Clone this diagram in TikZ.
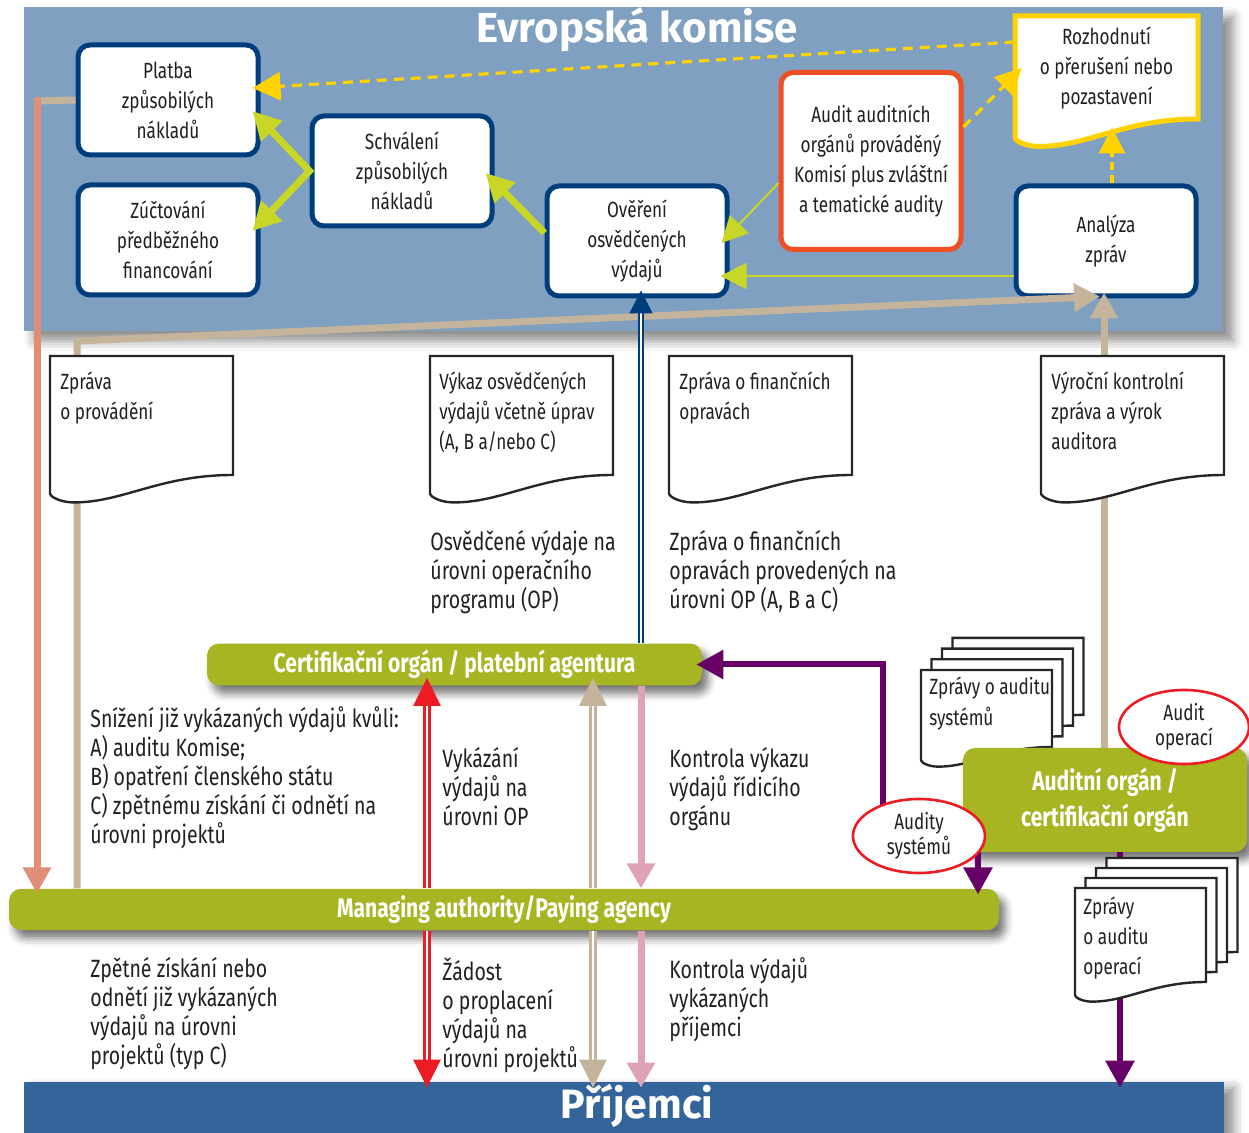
\documentclass[tikz,border=0pt]{standalone}
\usepackage{fontspec}
\setmainfont{Fira Sans}[FakeStretch=0.78]
\newfontfamily\titlefont{Fira Sans}
\usetikzlibrary{arrows.meta,shapes.geometric,shadows.blur}

\definecolor{panelblue}{RGB}{127,160,192}
\definecolor{boxblue}{RGB}{0,61,125}
\definecolor{auditred}{RGB}{240,78,35}
\definecolor{decyellow}{RGB}{255,210,0}
\definecolor{limegreen}{RGB}{200,214,40}
\definecolor{reporttan}{RGB}{196,180,155}
\definecolor{salmonline}{RGB}{224,142,120}
\definecolor{bargreen}{RGB}{168,181,34}
\definecolor{auditpurple}{RGB}{102,0,102}
\definecolor{checkpink}{RGB}{223,163,181}
\definecolor{claimred}{RGB}{237,28,36}
\definecolor{benefblue}{RGB}{51,101,154}
\definecolor{textgray}{RGB}{35,31,32}

\tikzset{
    ecbox/.style = {draw=boxblue, line width=2.5pt, fill=white, rounded corners=6pt, minimum width=90pt, minimum height=55pt, align=center, text=textgray, font=\fontsize{11}{15}\selectfont},
    barnode/.style = {fill=bargreen, rounded corners=6pt, text=white, align=center, font=\bfseries\fontsize{13.5}{18}\selectfont, blur shadow={shadow xshift=3pt, shadow yshift=-4pt, shadow blur radius=4pt, shadow opacity=55}},
    doctext/.style = {anchor=north west, inner sep=0pt, align=left, text=textgray, font=\fontsize{11}{15}\selectfont},
    flowtext/.style = {anchor=north west, inner sep=0pt, align=left, text=textgray, font=\fontsize{12.5}{14.5}\selectfont},
    auditoval/.style = {ellipse, draw=claimred, line width=1.3pt, fill=white, inner sep=0pt, align=center, text=textgray, font=\fontsize{11}{12.5}\selectfont},
    docline/.style = {draw=black!85, line width=1.2pt, fill=white},
    bigtip/.style = {-{Triangle[length=13pt,width=13.5pt]}},
    doubleline/.style = {double=white, line width=1.4pt, double distance=1pt}
}

% document page with a wavy bottom: [style] x y width height
\newcommand{\reportdoc}[5][]{%
    \begin{scope}[shift={({#2},{#3})}]
        \draw[docline,#1] (0,0) -- (#4,0) -- (#4,#5)
            .. controls ({0.6*#4},#5) and ({0.4*#4},{#5+0.15*#4}) .. ({0.13*#4},{#5+0.15*#4})
            .. controls ({0.06*#4},{#5+0.15*#4}) and (0,{#5+0.12*#4}) .. (0,{#5+0.1*#4}) -- cycle;
    \end{scope}}

\begin{document}
\begin{tikzpicture}[x=0.5pt, y=-0.5pt]
    \useasboundingbox (0,0) rectangle (1249,1133);

    % Evropska komise
    \fill[panelblue, blur shadow={shadow xshift=5pt, shadow yshift=-5pt, shadow blur radius=5pt, shadow opacity=45}] (24,7) rectangle (1223,331);
    \node[text=white, font=\titlefont\bfseries\fontsize{21}{24}\selectfont] (ectitle) at (637,30) {Evropská komise};

    % Prijemci
    \node[fill=benefblue, minimum width=600pt, minimum height=34pt, inner sep=0pt, blur shadow={shadow xshift=5pt, shadow yshift=-3pt, shadow blur radius=5pt, shadow opacity=45}] (prijemci) at (624,1116) {};
    \node[text=white, font=\titlefont\bfseries\fontsize{20.5}{24}\selectfont] (prijemcitext) at (637,1106) {Příjemci};

    % green bars
    \node[barnode, minimum width=247.5pt, minimum height=20.5pt] (cert) at (454.5,664.5) {Certifikační orgán / platební agentura};
    \node[barnode, minimum width=495pt, minimum height=20.5pt] (ma) at (504,909.5) {Managing authority/Paying agency};

    % stacked system audit reports
    \foreach \i in {3,2,1,0} {\reportdoc{921+10.5*\i}{670-10.7*\i}{131}{77}}
    \node[doctext, font=\fontsize{11}{15.5}\selectfont] (systxt) at (929,676) {Zprávy o auditu\\systémů};

    \node[barnode, minimum width=142pt, minimum height=52pt, font=\bfseries\fontsize{13.5}{18}\selectfont] (auditorg) at (1105,800) {Auditní orgán /\\certifikační orgán};

    % boxes of the Commission
    \node[ecbox] (platba) at (168,100) {Platba\\způsobilých\\nákladů};
    \node[ecbox] (zuct) at (168,240) {Zúčtování\\předběžného\\financování};
    \node[ecbox] (schval) at (402,171) {Schválení\\způsobilých\\nákladů};
    \node[ecbox] (overeni) at (637,241) {Ověření\\osvědčených\\výdajů};
    \node[ecbox, draw=auditred, minimum height=88.5pt] (audit) at (871,161) {Audit auditních\\orgánů prováděný\\Komisí plus zvláštní\\a tematické audity};
    \node[ecbox] (analyza) at (1106,241) {Analýza\\zpráv};
    \reportdoc[draw=decyellow, line width=2.5pt]{1015}{16}{183}{103}
    \node[minimum width=91.5pt, align=center, text=textgray, font=\fontsize{11}{15}\selectfont] (rozh) at (1106.5,68) {Rozhodnutí\\o přerušení nebo\\pozastavení};

    \coordinate (tanbend) at (77,341);
    \coordinate (payline) at (37,101);
    \coordinate (redline) at (427,700);
    \coordinate (tanline) at (593,700);
    \coordinate (pinkline) at (641,700);
    \coordinate (ausysc) at (919,836);
    \coordinate (aclink) at ([xshift=-1pt]analyza.south);
    \coordinate (opsline) at ([xshift=7.5pt]auditorg.south);
    \coordinate (maline) at ([xshift=-63.5pt]auditorg.south);

    % arrows inside the Commission
    \draw[limegreen, line width=3.5pt, {Triangle[length=14pt,width=14pt]}-{Triangle[length=14pt,width=14pt]}] ([xshift=-4pt,yshift=-5.5pt]platba.east) -- (schval.west) -- ([xshift=-4pt,yshift=4.5pt]zuct.east);
    \draw[limegreen, line width=3.5pt, -{Triangle[length=14pt,width=14pt]}] ([yshift=4pt]overeni.west) -- ([xshift=-4.5pt,yshift=-1pt]schval.east);
    \draw[limegreen, line width=1pt, -{Triangle[length=13pt,width=13pt]}] ([yshift=-11pt]audit.west) -- ([xshift=-4pt,yshift=-1pt]overeni.east);
    \draw[limegreen, line width=1pt, -{Triangle[length=13pt,width=13pt]}] ([yshift=-17.5pt]analyza.west) -- ([xshift=-4.5pt,yshift=-17.5pt]overeni.east);
    \draw[decyellow, line width=1.6pt, dash pattern=on 5pt off 3.5pt, -{Triangle[length=14pt,width=14pt]}] ([yshift=13pt]rozh.west) -- ([xshift=-4pt,yshift=6pt]platba.east);
    \draw[decyellow, line width=1.6pt, dash pattern=on 5pt off 3.5pt, -{Triangle[length=13pt,width=13pt]}] ([yshift=17pt]audit.east) -- ([xshift=3.5pt]rozh.west);
    \draw[decyellow, line width=1.6pt, dash pattern=on 4pt off 2.5pt, -{Triangle[length=13pt,width=13pt]}] ([xshift=3pt]analyza.north) -- ++(0,-56);

    % reports going up
    \draw[reporttan, line width=3.5pt, bigtip] (tanbend |- ma.north) -- (tanbend) -- ([xshift=-3pt,yshift=1pt]analyza.south);
    \draw[reporttan, line width=3.5pt, bigtip] (aclink |- auditorg.north) -- ([yshift=3pt]aclink);
    \draw[reporttan, line width=3.5pt] (platba.west) -- (payline);
    \draw[salmonline, line width=3.5pt, bigtip, shorten >=-2.5pt] ([yshift=1.75pt]payline) -- (payline |- ma.north);
    \draw[boxblue, double=white, line width=0.9pt, double distance=0.9pt, -{Triangle[length=11.5pt,width=11.5pt]}, shorten >=-4pt] (pinkline |- cert.north) -- (pinkline |- overeni.south);

    % flows between the bars
    \draw[claimred, doubleline, {Triangle[length=14pt,width=13.5pt]}-, shorten <=-4pt] (redline |- cert.south) -- (redline |- ma.north);
    \draw[claimred, doubleline, -{Triangle[length=14pt,width=13.5pt]}, shorten >=-3pt] (redline |- ma.south) -- (redline |- prijemci.north);
    \draw[reporttan, doubleline, {Triangle[length=14pt,width=13.5pt]}-, shorten <=-4pt] (tanline |- cert.south) -- (tanline |- ma.north);
    \draw[reporttan, doubleline, -{Triangle[length=14pt,width=13.5pt]}, shorten >=-3pt] (tanline |- ma.south) -- (tanline |- prijemci.north);
    \draw[checkpink, line width=3.5pt, -{Triangle[length=12.5pt,width=13.5pt]}] (pinkline |- cert.south) -- (pinkline |- ma.north);
    \draw[checkpink, line width=3.5pt, -{Triangle[length=12.5pt,width=13.5pt]}, shorten >=-3pt] (pinkline |- ma.south) -- (pinkline |- prijemci.north);

    % audits
    \draw[auditpurple, line width=3pt, -{Triangle[length=13.5pt,width=14pt]}, shorten >=-3pt] ([xshift=-18pt]ausysc) |- (cert.east);
    \draw[auditpurple, line width=3pt, -{Triangle[length=13.5pt,width=14pt]}, shorten >=-3pt] (maline) -- (maline |- ma.north);
    \draw[auditpurple, line width=3pt, -{Triangle[length=13.5pt,width=14pt]}, shorten >=-3pt] (opsline) -- (opsline |- prijemci.north);

    % reports
    \reportdoc{50}{356}{183}{119}
    \reportdoc{430}{356}{183}{119}
    \reportdoc{669}{356}{183}{119}
    \reportdoc{1041}{356}{183}{119}
    \foreach \i in {3,2,1,0} {\reportdoc{1075+10.5*\i}{888-10*\i}{131}{94}}
    \node[doctext] (zpravatxt) at (60,371) {Zpráva\\o provádění};
    \node[doctext] (vykaztxt) at (439,371) {Výkaz osvědčených\\výdajů včetně úprav\\(A, B a/nebo C)};
    \node[doctext] (finoptxt) at (679,371) {Zpráva o finančních\\opravách};
    \node[doctext] (vyrocnitxt) at (1051,371) {Výroční kontrolní\\zpráva a výrok\\auditora};
    \node[doctext] (opstxt) at (1083,896) {Zprávy\\o auditu\\operací};

    \node[auditoval, minimum width=66pt, minimum height=37pt] (ausys) at (ausysc) {Audity\\systémů};
    \node[auditoval, minimum width=65pt, minimum height=37pt] (auop) at (1184,727) {Audit\\operací};

    % texts along the flows
    \node[flowtext] (osvtxt) at (430,530) {Osvědčené výdaje na\\úrovni operačního\\programu (OP)};
    \node[flowtext] (fintxt) at (669,530) {Zpráva o finančních\\opravách provedených na\\úrovni OP (A, B a C)};
    \node[flowtext] (snizeni) at (90,706) {Snížení již vykázaných výdajů kvůli:\\A) auditu Komise;\\B) opatření členského státu\\C) zpětnému získání či odnětí na\\úrovni projektů};
    \node[flowtext] (vykazani) at (442,747) {Vykázání\\výdajů na\\úrovni OP};
    \node[flowtext] (kontrola) at (669,747) {Kontrola výkazu\\výdajů řídicího\\orgánu};
    \node[flowtext] (zpetne) at (90,957) {Zpětné získání nebo\\odnětí již vykázaných\\výdajů na úrovni\\projektů (typ C)};
    \node[flowtext] (zadost) at (442,957) {Žádost\\o proplacení\\výdajů na\\úrovni projektů};
    \node[flowtext] (kontrolavyd) at (669,957) {Kontrola výdajů\\vykázaných\\příjemci};
\end{tikzpicture}
\end{document}
